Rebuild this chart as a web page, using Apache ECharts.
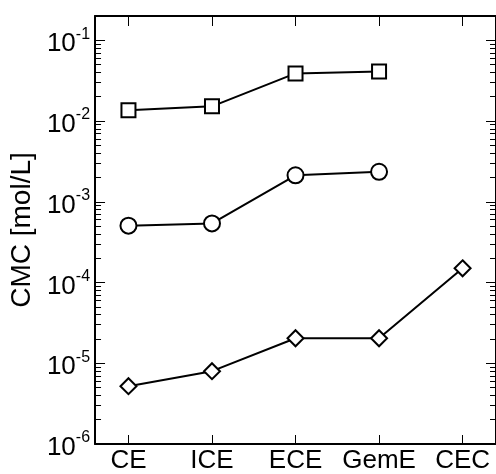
<!DOCTYPE html>
<html>
<head>
<meta charset="utf-8">
<script src="https://cdn.jsdelivr.net/npm/echarts@6/dist/echarts.min.js"></script>
<style>
  html, body { margin: 0; padding: 0; background: #fff; }
  #chart { width: 496px; height: 474px; }
</style>
</head>
<body>
<div id="chart"></div>
<script>
// Surfactant families along the x axis
const categories = ['CE', 'ICE', 'ECE', 'GemE', 'CEC'];

// Critical micelle concentrations (mol/L); null where no value exists
const squareSeries  = [0.0136, 0.0152, 0.0389, 0.0412, null];
const circleSeries  = [5.06e-4, 5.4e-4, 2.13e-3, 2.35e-3, null];
const diamondSeries = [5.2e-6, 7.98e-6, 2.04e-5, 2.04e-5, 1.5e-4];

// Decade tick values for the log axis
const decadeTicks = [1e-6, 1e-5, 1e-4, 1e-3, 1e-2, 1e-1];

const FONT = 'Liberation Sans, Arial, Helvetica, sans-serif';

// Positions of categories on the numeric x axis (1..n)
const catPositions = categories.map((_, i) => i + 1);

// Minor ticks: 2..9 within each decade
const minorTicks = [];
for (let e = -6; e <= -2; e++) {
  for (let m = 2; m <= 9; m++) minorTicks.push(+(m * Math.pow(10, e)).toPrecision(3));
}

function toPairs(values) {
  return values.map((v, i) => [i + 1, v]).filter(p => p[1] != null);
}

const axisLine = { show: true, lineStyle: { color: '#000', width: 2 } };

const chart = echarts.init(document.getElementById('chart'), null, { renderer: 'canvas' });

const yBase = {
  type: 'log',
  logBase: 10,
  min: 1e-6,
  max: 0.2,
  splitLine: { show: false },
  axisLabel: { show: false },
  axisLine: { show: false }
};

function seriesOf(values, symbol, size) {
  return {
    type: 'line',
    xAxisIndex: 0,
    yAxisIndex: 0,
    data: toPairs(values),
    symbol: symbol,
    symbolSize: size,
    showAllSymbol: true,
    connectNulls: false,
    lineStyle: { color: '#000', width: 2 },
    itemStyle: { color: '#fff', borderColor: '#000', borderWidth: 2 },
    emphasis: { disabled: true },
    z: 3
  };
}

chart.setOption({
  animation: false,
  backgroundColor: '#fff',
  grid: { left: 92, top: 16, width: 405, height: 435, containLabel: false },
  xAxis: [
    {
      type: 'value',
      position: 'bottom',
      min: 0.6,
      max: 5.4,
      splitLine: { show: false },
      axisLine: axisLine,
      axisTick: { show: true, inside: true, length: 9, customValues: catPositions,
                  lineStyle: { color: '#000', width: 1 } },
      axisLabel: {
        show: true,
        customValues: catPositions,
        margin: 4,
        fontFamily: FONT,
        fontSize: 26,
        color: '#000',
        formatter: v => categories[Math.round(v) - 1] || ''
      }
    },
    {
      type: 'value',
      position: 'top',
      min: 0.6,
      max: 5.4,
      splitLine: { show: false },
      axisLine: axisLine,
      axisTick: { show: true, inside: true, length: 10, customValues: catPositions,
                  lineStyle: { color: '#000', width: 1 } },
      axisLabel: { show: false }
    }
  ],
  yAxis: [
    Object.assign({}, yBase, {
      position: 'left',
      axisLine: axisLine,
      name: 'CMC [mol/L]',
      nameLocation: 'middle',
      nameRotate: 90,
      nameGap: 56,
      nameTextStyle: { fontFamily: FONT, fontSize: 28, color: '#000' },
      axisTick: { show: true, inside: true, length: 10, customValues: decadeTicks,
                  lineStyle: { color: '#000', width: 1 } },
      axisLabel: {
        show: true,
        customValues: decadeTicks,
        margin: 5,
        color: '#000',
        formatter: v => '{b|10}{s|' + Math.round(Math.log10(v)) + '}',
        rich: {
          b: { fontFamily: FONT, fontSize: 26, color: '#000', padding: [8, 0, 0, 0] },
          s: { fontFamily: FONT, fontSize: 16, color: '#000', padding: [0, 0, 12, 0] }
        }
      }
    }),
    Object.assign({}, yBase, {
      position: 'left',
      axisTick: { show: true, inside: true, length: 6, customValues: minorTicks,
                  lineStyle: { color: '#000', width: 1 } }
    }),
    Object.assign({}, yBase, {
      position: 'right',
      axisLine: axisLine,
      axisTick: { show: true, inside: true, length: 10, customValues: decadeTicks,
                  lineStyle: { color: '#000', width: 1 } }
    }),
    Object.assign({}, yBase, {
      position: 'right',
      axisTick: { show: true, inside: true, length: 6, customValues: minorTicks,
                  lineStyle: { color: '#000', width: 1 } }
    })
  ],
  series: [
    seriesOf(squareSeries, 'rect', 14),
    seriesOf(circleSeries, 'circle', 16),
    seriesOf(diamondSeries, 'diamond', 16)
  ]
});
</script>
</body>
</html>
